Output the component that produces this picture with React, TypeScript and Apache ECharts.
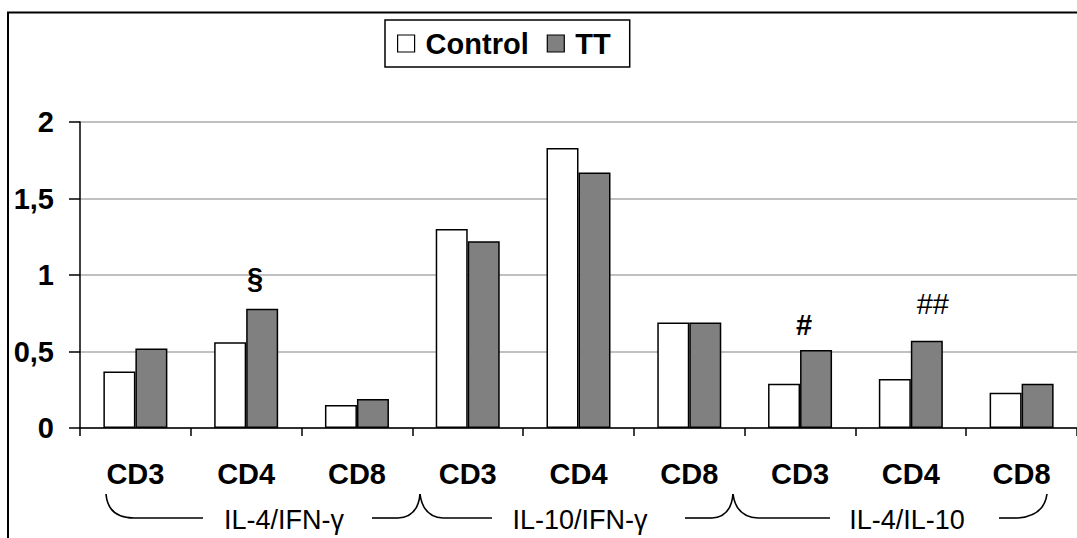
import React, { useEffect, useRef } from "react";
import * as echarts from "echarts";

// Cytokine ratio data (Control vs TT) for each T-cell subset
const categories = ["CD3", "CD4", "CD8", "CD3", "CD4", "CD8", "CD3", "CD4", "CD8"];
const controlValues = [0.37, 0.56, 0.15, 1.3, 1.83, 0.69, 0.29, 0.32, 0.23];
const ttValues = [0.52, 0.78, 0.19, 1.22, 1.67, 0.69, 0.51, 0.57, 0.29];
const ttMarks = ["", "§", "", "", "", "", "#", "##", ""];
const groupNames = ["IL-4/IFN-\u03b3", "IL-10/IFN-\u03b3", "IL-4/IL-10"];
const yTicks = [0, 0.5, 1, 1.5, 2];

const FONT = "'Liberation Sans', Arial, Helvetica, sans-serif";

// placement tweaks of the significance marks above the TT bars
const markStyle: Record<string, { offset: [number, number]; fontWeight: string }> = {
  "§": { offset: [-7, -11], fontWeight: "bold" },
  "#": { offset: [-12, -5], fontWeight: "bold" },
  "##": { offset: [6, -17], fontWeight: "normal" },
};

export default function App() {
  const ref = useRef<HTMLDivElement>(null);

  useEffect(() => {
    if (!ref.current) return;
    const chart = echarts.init(ref.current, null, { renderer: "svg" });

    const ttData = ttValues.map((v, i) => {
      const m = ttMarks[i];
      if (!m) return v;
      const st = markStyle[m];
      return {
        value: v,
        label: {
          show: true,
          position: "top",
          formatter: m,
          offset: st.offset,
          fontSize: 29,
          fontWeight: st.fontWeight,
          fontFamily: FONT,
          color: "#000",
        },
      };
    });

    const line = (x1: number, y1: number, x2: number, y2: number) => ({
      type: "line",
      shape: { x1, y1, x2, y2 },
      style: { stroke: "#000", lineWidth: 1.6 },
      silent: true,
    });
    const curve = (x1: number, y1: number, cpx1: number, cpy1: number, x2: number, y2: number) => ({
      type: "bezierCurve",
      shape: { x1, y1, cpx1, cpy1, x2, y2 },
      style: { stroke: "#000", lineWidth: 1.6, fill: null },
      silent: true,
    });
    const groupText = (x: number, text: string) => ({
      type: "text",
      x,
      y: 520,
      style: {
        text,
        fontSize: 27,
        fontFamily: FONT,
        fill: "#000",
        align: "center",
        verticalAlign: "middle",
      },
      silent: true,
    });

    chart.setOption({
      animation: false,
      backgroundColor: "#fff",
      textStyle: { fontFamily: FONT },
      grid: { left: 80, top: 122, width: 1002, height: 306, containLabel: false },
      legend: {
        data: ["Control", "TT"],
        left: 385,
        top: 20,
        orient: "horizontal",
        icon: "rect",
        itemWidth: 17,
        itemHeight: 17,
        itemGap: 18,
        padding: [9, 19, 9, 12],
        borderColor: "#000",
        borderWidth: 1.5,
        itemStyle: { borderColor: "#000", borderWidth: 1.2 },
        textStyle: {
          fontSize: 29,
          fontWeight: "bold",
          fontFamily: FONT,
          color: "#000",
          padding: [0, 0, 0, 6],
        },
      },
      xAxis: {
        type: "category",
        data: categories,
        axisLine: { lineStyle: { color: "#000", width: 1.5 } },
        axisTick: { show: true, alignWithLabel: false, length: 8, lineStyle: { color: "#000", width: 1.5 } },
        axisLabel: {
          interval: 0,
          margin: 31,
          fontSize: 29,
          fontWeight: "bold",
          fontFamily: FONT,
          color: "#000",
        },
        splitLine: { show: false },
      },
      yAxis: {
        type: "value",
        min: yTicks[0],
        max: yTicks[yTicks.length - 1],
        interval: 0.5,
        axisLine: { show: true, lineStyle: { color: "#000", width: 1.5 } },
        axisTick: { show: true, length: 11, lineStyle: { color: "#000", width: 1.5 } },
        axisLabel: {
          margin: 26,
          fontSize: 29,
          fontWeight: "bold",
          fontFamily: FONT,
          color: "#000",
          formatter: (v: number) => String(v).replace(".", ","),
        },
        splitLine: { show: true, lineStyle: { color: "#c0c0c0", width: 2 } },
      },
      series: [
        {
          name: "Control",
          type: "bar",
          data: controlValues,
          barWidth: 32,
          barGap: "0%",
          itemStyle: { color: "#ffffff", borderColor: "#000", borderWidth: 1.5 },
        },
        {
          name: "TT",
          type: "bar",
          data: ttData,
          barWidth: 32,
          barGap: "0%",
          itemStyle: { color: "#808080", borderColor: "#000", borderWidth: 1.5 },
        },
      ],
      graphic: [
        // outer frame
        {
          type: "rect",
          shape: { x: 8, y: 12.5, width: 1200, height: 700 },
          style: { fill: null, stroke: "#000", lineWidth: 2 },
          silent: true,
          z: 10,
        },
        // group braces below the category labels
        curve(106, 494, 108, 518, 134, 518),
        line(134, 518, 203, 518),
        groupText(284, groupNames[0]),
        line(372, 518, 398, 518),
        curve(398, 518, 418, 517, 420, 494),
        curve(420, 494, 423, 517, 443, 518),
        line(443, 518, 492, 518),
        groupText(580, groupNames[1]),
        line(685, 518, 712, 518),
        curve(712, 518, 731, 517, 733, 494),
        curve(733, 494, 736, 517, 758, 518),
        line(758, 518, 830, 518),
        groupText(907, groupNames[2]),
        line(999, 518, 1018, 518),
        curve(1018, 518, 1044, 516, 1047, 494),
      ],
    });

    return () => chart.dispose();
  }, []);

  return (
    <div
      ref={ref}
      style={{ position: "fixed", left: 0, top: 0, width: 1077, height: 538 }}
    />
  );
}
